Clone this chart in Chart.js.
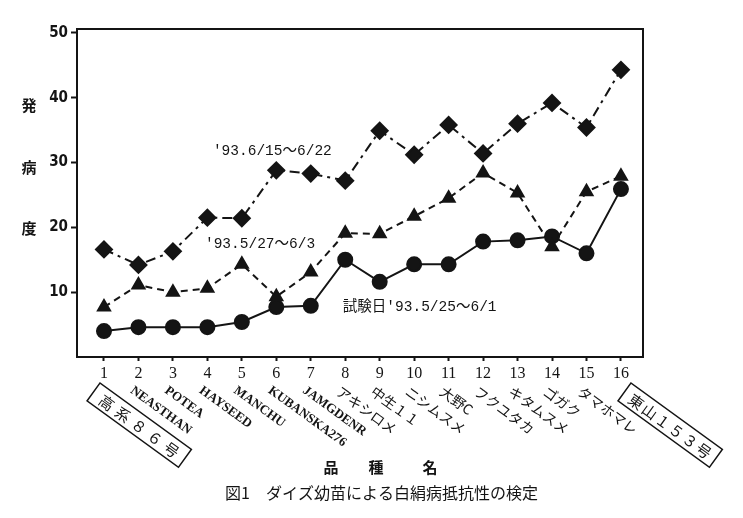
<!DOCTYPE html>
<html>
<head>
<meta charset="utf-8">
<script src="https://cdn.jsdelivr.net/npm/chart.js@4.4.1/dist/chart.umd.min.js"></script>
<style>
html, body { margin: 0; padding: 0; background: #fff; }
canvas { display: block; }
</style>
</head>
<body>
<canvas id="chart" width="743" height="518"></canvas>
<script>
// 品種番号と品種名
const xTicks = [1, 2, 3, 4, 5, 6, 7, 8, 9, 10, 11, 12, 13, 14, 15, 16];
const yTicks = [10, 20, 30, 40, 50];
const varieties = ['高系８６号', 'NEASTHAN', 'POTEA', 'HAYSEED', 'MANCHU', 'KUBANSKA276', 'JAMGDENR',
    'アキシロメ', '中生１１', 'ニシムスメ', '大野C', 'フクユタカ', 'キタムスメ', 'ゴガク', 'タマホマレ', '東山１５３号'];
const boxedVarieties = ['高系８６号', '東山１５３号'];

// 発病度
const seriesLate = [16.6, 14.2, 16.3, 21.5, 21.4, 28.8, 28.3, 27.2, 34.9, 31.2, 35.8, 31.4, 36.0, 39.2, 35.4, 44.3];
const seriesMid = [7.7, 11.1, 10.0, 10.6, 14.3, 9.3, 13.1, 19.1, 19.0, 21.7, 24.5, 28.4, 25.3, 17.0, 25.5, 27.9];
const seriesEarly = [4.0, 4.6, 4.6, 4.6, 5.4, 7.7, 7.9, 15.0, 11.6, 14.3, 14.3, 17.8, 18.0, 18.6, 16.0, 25.9];
const seriesNames = ["'93.6/15～6/22", "'93.5/27～6/3", "試験日'93.5/25～6/1"];

const yTitle = ['発', '病', '度'];
const xTitle = ['品', '種', '名'];
const caption = '図1　ダイズ幼苗による白絹病抵抗性の検定';

const ink = '#141414';
const toPoints = (vals) => vals.map((v, i) => ({ x: xTicks[i], y: v }));

// 線の横に置く日付ラベル（データ座標）
const nameAt = [[4.16, 31.2], [3.93, 16.8], [7.93, 7.1]];

const decorPlugin = {
    id: 'decor',
    beforeDatasetsDraw(chart) {
        const { ctx, chartArea: a } = chart;
        ctx.save();
        ctx.strokeStyle = ink;
        ctx.lineWidth = 2;
        ctx.strokeRect(a.left, a.top, a.right - a.left, a.bottom - a.top);
        ctx.restore();
    },
    afterDraw(chart) {
        const { ctx, chartArea: a } = chart;
        const xs = chart.scales.x, ys = chart.scales.y;
        ctx.save();
        ctx.fillStyle = ink;
        ctx.strokeStyle = ink;

        // 系列名
        ctx.font = '14.5px "Liberation Mono", "Noto Sans CJK JP"';
        ctx.textAlign = 'left';
        ctx.textBaseline = 'alphabetic';
        seriesNames.forEach((name, i) => {
            ctx.fillText(name, xs.getPixelForValue(nameAt[i][0]), ys.getPixelForValue(nameAt[i][1]));
        });

        // 品種名（斜め）
        const ang = 36 * Math.PI / 180;
        varieties.forEach((name, i) => {
            const x = xs.getPixelForValue(xTicks[i]);
            const y = a.bottom + 27;
            ctx.save();
            ctx.textBaseline = 'top';
            ctx.textAlign = 'left';
            if (boxedVarieties.includes(name)) {
                const dx = i === 0 ? -4 : 10;
                ctx.translate(x + dx, y - 1);
                ctx.rotate(ang);
                ctx.lineWidth = 1.5;
                ctx.strokeRect(0, 0, 113, 22);
                ctx.font = '15px "Noto Sans CJK JP"';
                ctx.textAlign = 'center';
                ctx.textBaseline = 'middle';
                const chars = Array.from(name);
                const step = 100 / chars.length;
                chars.forEach((c, k) => ctx.fillText(c, 7 + step * (k + 0.5), 12));
            } else {
                ctx.translate(x - 3, y);
                ctx.rotate(ang);
                if (/^[\x00-\x7f]+$/.test(name)) {
                    ctx.font = 'bold 13px "Liberation Serif"';
                } else {
                    ctx.font = '14px "Noto Sans CJK JP"';
                }
                ctx.fillText(name, 0, 0);
            }
            ctx.restore();
        });

        // 軸タイトル
        ctx.font = 'bold 15px "Noto Sans CJK JP"';
        ctx.textAlign = 'center';
        ctx.textBaseline = 'middle';
        [105, 167, 228].forEach((yy, k) => ctx.fillText(yTitle[k], 29, yy));
        [331, 376, 430].forEach((xx, k) => ctx.fillText(xTitle[k], xx, 467));

        // 図の説明
        ctx.font = '16px "Noto Sans CJK JP"';
        ctx.textAlign = 'left';
        ctx.fillText(caption, 225, 493);
        ctx.restore();
    }
};

const common = {
    borderColor: ink,
    backgroundColor: ink,
    pointBackgroundColor: ink,
    pointBorderColor: ink,
    borderWidth: 2,
    tension: 0
};

new Chart(document.getElementById('chart'), {
    type: 'line',
    data: {
        datasets: [
            { ...common, label: seriesNames[0], data: toPoints(seriesLate),
              borderDash: [10, 5, 3, 5], pointStyle: 'rectRot', pointRadius: 8 },
            { ...common, label: seriesNames[1], data: toPoints(seriesMid),
              borderDash: [7, 5], pointStyle: 'triangle', pointRadius: 7 },
            { ...common, label: seriesNames[2], data: toPoints(seriesEarly),
              pointStyle: 'circle', pointRadius: 7 }
        ]
    },
    options: {
        responsive: false,
        animation: false,
        events: [],
        layout: { padding: { left: 0, top: 29, right: 100, bottom: 0 } },
        plugins: { legend: { display: false }, tooltip: { enabled: false } },
        scales: {
            x: {
                type: 'linear',
                min: 0.217,
                max: 16.64,
                afterFit(scale) { scale.height = 161; },
                afterBuildTicks(scale) { scale.ticks = xTicks.map(v => ({ value: v })); },
                border: { display: false },
                grid: { drawOnChartArea: false, tickLength: 4, tickWidth: 2, color: ink },
                ticks: { color: ink, padding: 3, maxRotation: 0, autoSkip: false,
                         font: { family: '"Liberation Serif"', size: 16 } }
            },
            y: {
                min: 0,
                max: 50.6,
                afterFit(scale) { scale.width = 77; },
                afterBuildTicks(scale) { scale.ticks = yTicks.map(v => ({ value: v })); },
                border: { display: false },
                grid: { drawOnChartArea: false, tickLength: 6, tickWidth: 2, color: ink },
                ticks: { color: ink, padding: 3,
                         font: { family: '"DejaVu Sans Condensed", "DejaVu Sans"', size: 15, weight: 'bold' } }
            }
        }
    },
    plugins: [decorPlugin]
});
</script>
</body>
</html>
